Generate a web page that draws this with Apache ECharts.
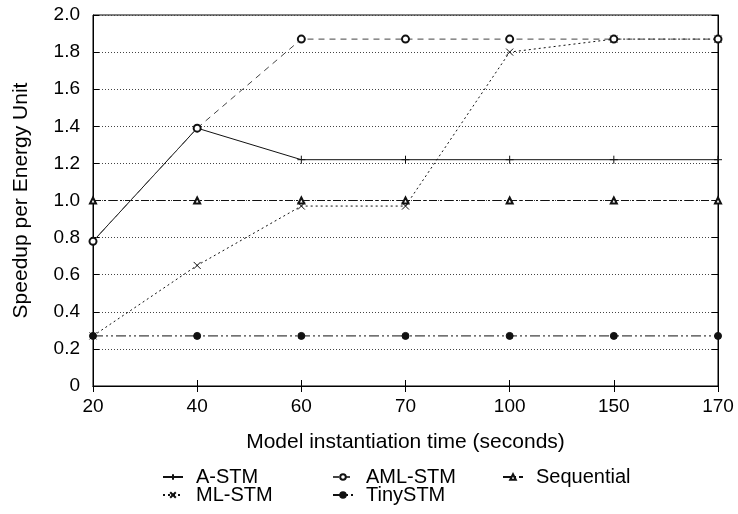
<!DOCTYPE html>
<html>
<head>
<meta charset="utf-8">
<script src="https://cdn.jsdelivr.net/npm/echarts@6/dist/echarts.min.js"></script>
<style>
  html, body { margin: 0; padding: 0; background: #fff; }
  #main { width: 738px; height: 514px; }
</style>
</head>
<body>
<div id="main"></div>
<script>
// x categories (seconds) and y values
var categories = ["20", "40", "60", "70", "100", "150", "170"];
var aStm = [0.78, 1.39, 1.22, 1.22, 1.22, 1.22, 1.22];
var amlStm = [0.78, 1.39, 1.87, 1.87, 1.87, 1.87, 1.87];
var sequential = [1.0, 1.0, 1.0, 1.0, 1.0, 1.0, 1.0];
var mlStm = [0.27, 0.65, 0.97, 0.97, 1.80, 1.87, 1.87];
var tinyStm = [0.27, 0.27, 0.27, 0.27, 0.27, 0.27, 0.27];

var font = "'Liberation Sans', Arial, Helvetica, sans-serif";
var myChart = echarts.init(document.getElementById("main"));

function legendAt(name, left, top) {
  return {
    data: [name],
    left: left,
    top: top,
    padding: 0,
    itemWidth: 20,
    itemHeight: 7,
    textStyle: { fontFamily: font, fontSize: 20, color: "#000", padding: [0, 0, 0, 8] }
  };
}

function line(name, data, symbol, size, dash, color) {
  return {
    name: name,
    type: "line",
    data: data,
    symbol: symbol,
    symbolSize: size,
    showSymbol: true,
    showAllSymbol: true,
    animation: false,
    lineStyle: { color: color || "#111", width: 1, type: dash },
    itemStyle: { color: "#111", borderColor: "#111", borderWidth: 1 }
  };
}

var option = {
  backgroundColor: "#fff",
  animation: false,
  textStyle: { fontFamily: font },
  grid: { left: 93, right: 20, top: 15, bottom: 128, show: true, borderColor: "#000", borderWidth: 1 },
  legend: [
    legendAt("A-STM", 162, 467),
    legendAt("AML-STM", 332, 467),
    legendAt("Sequential", 502, 467),
    legendAt("ML-STM", 162, 485),
    legendAt("TinySTM", 332, 485)
  ],
  xAxis: [
    {
      type: "category",
      data: categories,
      boundaryGap: false,
      name: "Model instantiation time (seconds)",
      nameLocation: "middle",
      nameGap: 46,
      nameTextStyle: { fontFamily: font, fontSize: 21, color: "#000" },
      axisLine: { lineStyle: { color: "#000", width: 1 } },
      axisTick: { inside: true, length: 6, lineStyle: { color: "#000" } },
      axisLabel: { color: "#000", fontFamily: font, fontSize: 19, margin: 11 },
      splitLine: { show: false }
    },
    {
      type: "category",
      data: categories,
      boundaryGap: false,
      position: "top",
      axisLine: { lineStyle: { color: "#000", width: 1 } },
      axisTick: { inside: true, length: 6, lineStyle: { color: "#000" } },
      axisLabel: { show: false },
      splitLine: { show: false }
    }
  ],
  yAxis: [
    {
      type: "value",
      min: 0,
      max: 2,
      interval: 0.2,
      name: "Speedup per Energy Unit",
      nameLocation: "middle",
      nameGap: 61,
      nameTextStyle: { fontFamily: font, fontSize: 21, color: "#000" },
      axisLine: { show: true, lineStyle: { color: "#000", width: 1 } },
      axisTick: { show: true, inside: true, length: 6, lineStyle: { color: "#000" } },
      axisLabel: {
        color: "#000", fontFamily: font, fontSize: 19, margin: 13,
        formatter: function (v) { return v === 0 ? "0" : v.toFixed(1); }
      },
      splitLine: { show: true, lineStyle: { color: "#444", width: 1, type: [1, 2] } }
    },
    {
      type: "value",
      min: 0,
      max: 2,
      interval: 0.2,
      position: "right",
      axisLine: { show: true, lineStyle: { color: "#000", width: 1 } },
      axisTick: { show: true, inside: true, length: 6, lineStyle: { color: "#000" } },
      axisLabel: { show: false },
      splitLine: { show: false }
    }
  ],
  series: [
    line("Sequential", sequential, "emptyTriangle", 6, [8, 3, 2, 3]),
    line("TinySTM", tinyStm, "circle", 7, [10, 3, 2, 3, 2, 3]),
    line("ML-STM", mlStm, "path://M0,0L10,10M10,0L0,10", 7, [2, 3]),
    line("A-STM", aStm, "path://M0,5L10,5M5,0L5,10", 8, "solid"),
    line("AML-STM", amlStm, "emptyCircle", 7, [6, 5], "#444")
  ]
};

option && myChart.setOption(option);
</script>
</body>
</html>
